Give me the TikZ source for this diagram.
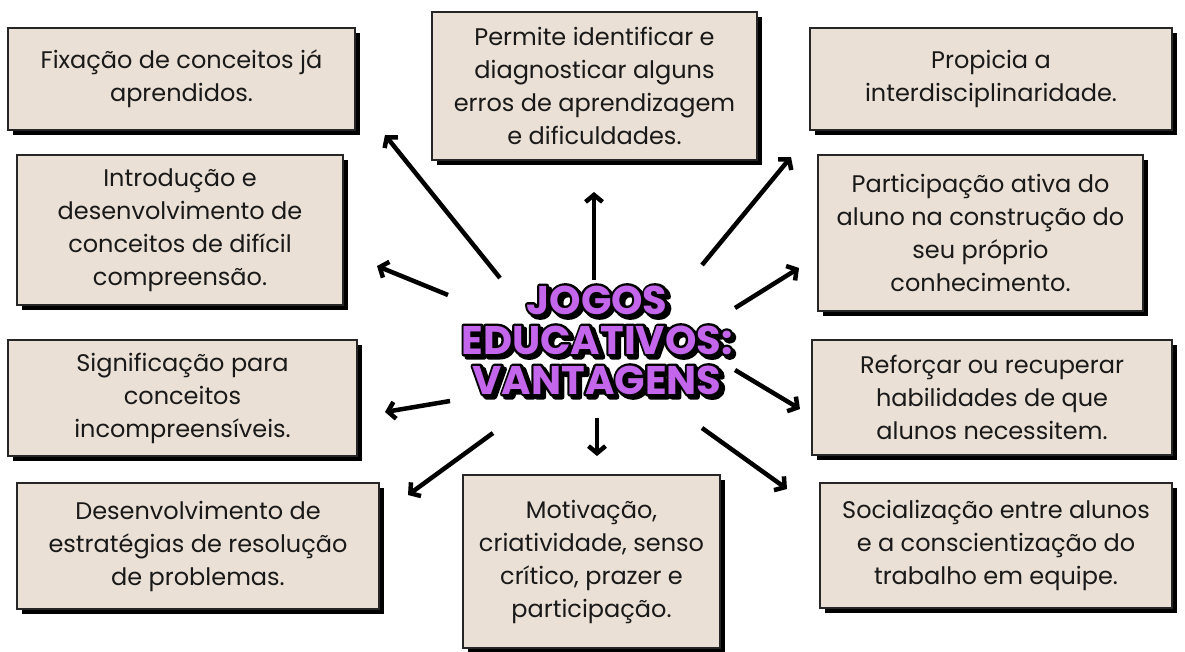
\documentclass[tikz,border=0pt]{standalone}
\usepackage{fontspec}
\setmainfont{Poppins}
\usetikzlibrary{arrows.meta, shadows}
\definecolor{cardfill}{HTML}{EAE0D5}
\definecolor{titlepurple}{HTML}{C466EC}
% text drawn with a wide stroke (outline behind the title)
\newcommand{\strokedtext}[2]{\special{pdf:literal direct 1 j #1 w 2 Tr}#2\special{pdf:literal direct 0 Tr}}

\begin{document}
\begin{tikzpicture}[
    x=1pt, y=-1pt,
    card/.style={rectangle, draw=black!85, line width=1.2pt, fill=cardfill, align=center, text=black!90, inner sep=0pt,
        font=\fontsize{24}{33}\selectfont, drop shadow={shadow xshift=5pt, shadow yshift=-5pt, fill=black, opacity=1}},
    heading/.style={align=center, font=\fontsize{40}{40}\selectfont\bfseries},
    arrow/.style={line width=4.5pt, -{Straight Barb[length=7pt, width=17pt]}}
]
    \useasboundingbox (0,0) rectangle (1185,651);

    % left column
    \node[card, minimum width=347, minimum height=102] (fix) at (181.5,79) {Fixação de conceitos já\\aprendidos.};
    \node[card, minimum width=326, minimum height=150] (intro) at (180,230) {Introdução e\\desenvolvimento de\\conceitos de difícil\\compreensão.};
    \node[card, minimum width=349, minimum height=116] (sig) at (182.5,398) {Significação para\\conceitos\\incompreensíveis.};
    \node[card, minimum width=362, minimum height=126] (estr) at (198,546) {Desenvolvimento de\\estratégias de resolução\\de problemas.};

    % middle column
    \node[card, minimum width=325, minimum height=148] (diag) at (594.5,86) {Permite identificar e\\diagnosticar alguns\\erros de aprendizagem\\e dificuldades.};
    \node[card, minimum width=257, minimum height=173] (moti) at (591.5,561.5) {Motivação,\\criatividade, senso\\crítico, prazer e\\participação.};

    % right column
    \node[card, minimum width=362, minimum height=102] (inter) at (991,79) {Propicia a\\interdisciplinaridade.};
    \node[card, minimum width=325, minimum height=156] (part) at (980.5,233) {Participação ativa do\\aluno na construção do\\seu próprio\\conhecimento.};
    \node[card, minimum width=360, minimum height=115] (refo) at (992,397.5) {Reforçar ou recuperar\\habilidades de que\\alunos necessitem.};
    \node[card, minimum width=352, minimum height=125] (soci) at (996,545.5) {Socialização entre alunos\\e a conscientização do\\trabalho em equipe.};

    % title: shadow, outline, fill
    \node[heading, text=black] (title-shadow) at (600,343) {\strokedtext{5}{JOGOS\\EDUCATIVOS:\\VANTAGENS}};
    \node[heading, text=black] (title-line) at (597,340) {\strokedtext{5}{JOGOS\\EDUCATIVOS:\\VANTAGENS}};
    \node[heading, text=titlepurple] (title) at (597,340) {JOGOS\\EDUCATIVOS:\\VANTAGENS};

    % arrow ends
    \coordinate (s-fix) at (500,278);   \coordinate (e-fix) at (385,135);
    \coordinate (s-intro) at (448,295); \coordinate (e-intro) at (377,266);
    \coordinate (s-sig) at (450,401);   \coordinate (e-sig) at (385,412);
    \coordinate (s-estr) at (493,433);  \coordinate (e-estr) at (408,495);
    \coordinate (s-diag) at (594,280);  \coordinate (e-diag) at (594,192);
    \coordinate (s-moti) at (597,418);  \coordinate (e-moti) at (597,456);
    \coordinate (s-inter) at (702,265); \coordinate (e-inter) at (791,157);
    \coordinate (s-part) at (735,308);  \coordinate (e-part) at (799,268);
    \coordinate (s-refo) at (735,370);  \coordinate (e-refo) at (800,409);
    \coordinate (s-soci) at (702,428);  \coordinate (e-soci) at (787,489);

    \foreach \n in {fix, intro, sig, estr, diag, moti, inter, part, refo, soci}
        \draw[arrow] (s-\n) -- (e-\n);
\end{tikzpicture}
\end{document}
